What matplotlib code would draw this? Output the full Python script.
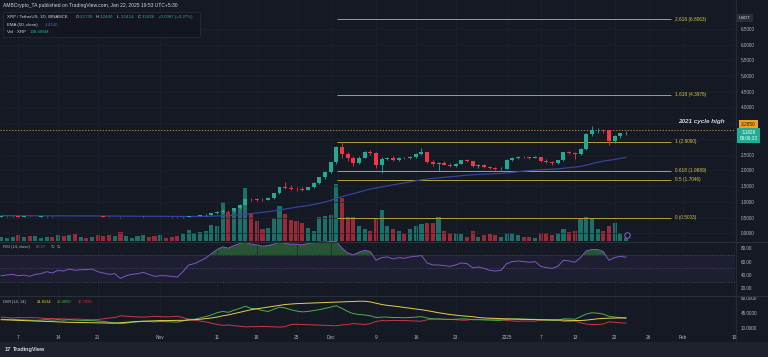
import matplotlib
matplotlib.use("Agg")
import matplotlib.pyplot as plt
from matplotlib.patches import Rectangle
from matplotlib.lines import Line2D
import numpy as np

plt.rcParams["font.family"] = ["Liberation Sans", "DejaVu Sans"]

# ── Data (XRP/USDT daily, 4 Oct 2024 -> 22 Jan 2025, one value per day) ──────

tick_days = [3, 10, 17, 28, 38, 45, 52, 58, 66, 73, 80, 89, 95, 101, 108, 114, 120, 129]
tick_labels = ["7", "14", "21", "Nov", "11", "18", "25", "Dec", "9", "16", "23",
               "2025", "7", "13", "20", "26", "Feb", "10"]

opens = [
    0.527, 0.535, 0.537, 0.543, 0.533, 0.534, 0.527, 0.530, 0.535, 0.545,
    0.537, 0.548, 0.542, 0.551, 0.545, 0.549, 0.547, 0.551, 0.539, 0.533,
    0.524, 0.530, 0.509, 0.516, 0.521, 0.523, 0.528, 0.521, 0.510, 0.513,
    0.512, 0.506, 0.503, 0.517, 0.546, 0.550, 0.575, 0.592, 0.640, 0.690,
    0.720, 0.700, 0.790, 0.900, 1.100, 1.080, 1.070, 1.060, 1.110, 1.270,
    1.460, 1.440, 1.420, 1.410, 1.390, 1.460, 1.600, 1.780, 1.940, 2.260,
    2.740, 2.520, 2.380, 2.250, 2.400, 2.580, 2.540, 2.170, 2.360, 2.390,
    2.330, 2.400, 2.380, 2.440, 2.520, 2.580, 2.270, 2.200, 2.230, 2.180,
    2.150, 2.200, 2.320, 2.300, 2.130, 2.160, 2.110, 2.070, 2.040, 2.060,
    2.330, 2.400, 2.430, 2.420, 2.400, 2.420, 2.290, 2.270, 2.230, 2.320,
    2.570, 2.550, 2.510, 2.680, 3.150, 3.280, 3.300, 3.270, 2.930, 3.090,
    3.174,
]
highs = [
    0.539, 0.541, 0.546, 0.548, 0.538, 0.537, 0.534, 0.538, 0.548, 0.549,
    0.553, 0.553, 0.556, 0.553, 0.552, 0.553, 0.553, 0.553, 0.543, 0.536,
    0.532, 0.534, 0.520, 0.525, 0.528, 0.536, 0.531, 0.524, 0.526, 0.518,
    0.514, 0.512, 0.521, 0.552, 0.560, 0.580, 0.600, 0.650, 0.705, 0.760,
    0.745, 0.800, 0.920, 1.130, 1.130, 1.130, 1.120, 1.140, 1.290, 1.480,
    1.630, 1.530, 1.480, 1.470, 1.480, 1.620, 1.800, 1.970, 2.280, 2.760,
    2.909, 2.600, 2.450, 2.450, 2.620, 2.640, 2.580, 2.420, 2.440, 2.470,
    2.430, 2.440, 2.460, 2.560, 2.700, 2.600, 2.330, 2.260, 2.310, 2.240,
    2.220, 2.340, 2.350, 2.310, 2.200, 2.200, 2.140, 2.110, 2.110, 2.350,
    2.420, 2.450, 2.460, 2.440, 2.460, 2.440, 2.360, 2.300, 2.340, 2.600,
    2.620, 2.600, 2.700, 3.180, 3.400, 3.340, 3.330, 3.290, 3.120, 3.200,
    3.244,
]
lows = [
    0.521, 0.530, 0.533, 0.531, 0.527, 0.524, 0.521, 0.527, 0.533, 0.532,
    0.535, 0.536, 0.540, 0.539, 0.541, 0.544, 0.542, 0.535, 0.530, 0.519,
    0.520, 0.497, 0.505, 0.511, 0.511, 0.518, 0.517, 0.507, 0.505, 0.505,
    0.500, 0.495, 0.500, 0.511, 0.538, 0.545, 0.565, 0.585, 0.625, 0.660,
    0.670, 0.690, 0.760, 0.890, 1.040, 1.040, 1.030, 1.050, 1.090, 1.260,
    1.400, 1.380, 1.350, 1.340, 1.370, 1.440, 1.560, 1.740, 1.920, 2.200,
    2.380, 2.300, 2.150, 2.200, 2.380, 2.480, 2.080, 1.910, 2.320, 2.300,
    2.310, 2.350, 2.360, 2.400, 2.480, 2.240, 2.150, 1.970, 2.160, 2.120,
    2.100, 2.190, 2.270, 2.110, 2.080, 2.090, 2.050, 2.010, 2.020, 2.050,
    2.310, 2.370, 2.400, 2.370, 2.380, 2.260, 2.220, 2.180, 2.210, 2.310,
    2.520, 2.370, 2.500, 2.660, 3.100, 3.200, 3.180, 2.800, 2.870, 3.030,
    3.141,
]
closes = [
    0.535, 0.537, 0.543, 0.533, 0.534, 0.527, 0.530, 0.535, 0.545, 0.537,
    0.548, 0.542, 0.551, 0.545, 0.549, 0.547, 0.551, 0.539, 0.533, 0.524,
    0.530, 0.509, 0.516, 0.521, 0.523, 0.528, 0.521, 0.510, 0.513, 0.512,
    0.506, 0.503, 0.517, 0.546, 0.550, 0.575, 0.592, 0.640, 0.690, 0.720,
    0.700, 0.790, 0.900, 1.100, 1.080, 1.070, 1.060, 1.110, 1.270, 1.460,
    1.440, 1.420, 1.410, 1.390, 1.460, 1.600, 1.780, 1.940, 2.260, 2.740,
    2.520, 2.380, 2.250, 2.400, 2.580, 2.540, 2.170, 2.360, 2.390, 2.330,
    2.400, 2.380, 2.440, 2.520, 2.580, 2.270, 2.200, 2.230, 2.180, 2.150,
    2.200, 2.320, 2.300, 2.130, 2.160, 2.110, 2.070, 2.040, 2.060, 2.330,
    2.400, 2.430, 2.420, 2.400, 2.420, 2.290, 2.270, 2.230, 2.320, 2.570,
    2.550, 2.510, 2.680, 3.150, 3.280, 3.300, 3.270, 2.930, 3.090, 3.174,
    3.1826,
]
volumes_m = [
    160, 120, 160, 240, 160, 200, 200, 120, 160, 160,
    240, 200, 240, 280, 160, 120, 160, 240, 200, 240,
    200, 360, 200, 120, 200, 240, 160, 200, 240, 120,
    160, 200, 280, 440, 320, 360, 400, 640, 600, 1560,
    1160, 1240, 1400, 2120, 1080, 800, 480, 520, 920, 1400,
    1080, 840, 800, 720, 520, 400, 960, 1000, 1040, 2280,
    1720, 960, 960, 600, 480, 400, 920, 1240, 600, 480,
    400, 280, 480, 600, 680, 720, 720, 960, 400, 320,
    320, 280, 160, 400, 160, 240, 280, 240, 160, 320,
    320, 240, 160, 160, 120, 320, 320, 240, 320, 480,
    360, 400, 880, 960, 920, 480, 400, 600, 720, 320,
    139,
]
ema50 = [
    0.562, 0.561, 0.560, 0.559, 0.558, 0.557, 0.556, 0.555, 0.555, 0.554,
    0.554, 0.553, 0.553, 0.553, 0.552, 0.552, 0.552, 0.551, 0.550, 0.549,
    0.548, 0.546, 0.545, 0.544, 0.543, 0.542, 0.541, 0.540, 0.539, 0.538,
    0.537, 0.535, 0.535, 0.535, 0.536, 0.537, 0.540, 0.544, 0.550, 0.557,
    0.564, 0.573, 0.587, 0.607, 0.627, 0.648, 0.668, 0.688, 0.712, 0.744,
    0.774, 0.802, 0.829, 0.855, 0.882, 0.914, 0.952, 0.994, 1.045, 1.112,
    1.168, 1.217, 1.262, 1.310, 1.362, 1.408, 1.438, 1.474, 1.509, 1.540,
    1.573, 1.603, 1.635, 1.668, 1.703, 1.725, 1.744, 1.763, 1.780, 1.795,
    1.811, 1.831, 1.849, 1.860, 1.872, 1.882, 1.890, 1.896, 1.903, 1.920,
    1.939, 1.958, 1.976, 1.993, 2.010, 2.021, 2.030, 2.038, 2.049, 2.069,
    2.088, 2.104, 2.127, 2.168, 2.213, 2.256, 2.296, 2.321, 2.351, 2.383,
    2.414,
]
rsi = [
    39, 40, 41, 39, 40, 38, 41, 42, 45, 43,
    47, 46, 49, 47, 48, 48, 49, 45, 43, 41,
    42, 35, 39, 41, 42, 44, 41, 38, 39, 39,
    38, 37, 45, 55, 57, 61, 65, 72, 78, 82,
    80, 84, 87, 89, 86, 85, 83, 84, 86, 89,
    87, 86, 86, 85, 87, 88, 89, 89, 90, 90,
    80, 73, 70, 74, 77, 75, 62, 66, 67, 64,
    66, 65, 67, 68, 69, 58, 55, 55, 54, 53,
    55, 58, 57, 51, 52, 50, 47, 46, 47, 57,
    60, 61, 60, 59, 60, 53, 51, 50, 53, 62,
    61, 59, 66, 76, 78, 78, 75, 62, 66, 68,
    66.57,
]
adx = [
    29, 28.5, 28, 27.5, 27, 26.5, 26, 25.5, 25, 24.5,
    24, 23.5, 23, 22.8, 22.5, 22.2, 22, 21.8, 21.5, 21.2,
    21, 22, 23, 24, 25, 25.5, 26, 26.5, 27, 27,
    27.2, 27.5, 27.5, 28, 29, 30, 31.5, 33, 35, 38,
    40, 43, 46, 49, 52, 54, 56, 58, 60, 62,
    64, 65, 66, 66.5, 67, 67.5, 68, 68.5, 69, 69.5,
    70, 70.5, 71, 71.5, 71.5, 70, 67, 64, 62, 60.5,
    59, 57, 55.5, 53.5, 52, 50, 47.5, 45, 43, 41,
    39.5, 38, 37, 36, 34, 33, 32.5, 32, 31.5, 31,
    30.5, 30, 29.8, 29.5, 29.2, 29, 28.8, 28.5, 28.2, 28,
    27.5, 27.2, 27, 28, 29.5, 31, 32, 32.5, 32.8, 33,
    33,
]
plus_di = [
    30, 29.5, 30, 29, 28.5, 28, 27.5, 28, 29, 28,
    29, 28, 29, 28, 27.5, 27, 27, 26, 25, 23,
    22, 20, 21, 23, 24, 25.5, 25, 24, 25, 24.5,
    24, 23.5, 26, 30, 30, 33, 36, 40, 45, 48,
    46, 51, 55, 60, 55, 54, 50, 48, 53, 58,
    56, 52, 49, 47, 48, 50, 52, 55, 58, 61,
    55, 48, 43, 41, 40, 38, 34, 35, 35, 34,
    34, 33.5, 34, 35, 36, 33, 31, 31, 30, 29.5,
    30, 31, 30.5, 29, 29, 28.5, 28, 27.5, 27.5, 30,
    31, 31, 30.5, 30, 30, 28.5, 28, 27.5, 28, 31,
    31, 30, 36, 42, 45, 44, 42, 37, 35, 34,
    33,
]
minus_di = [
    35, 34, 33, 34, 33.5, 34, 33.5, 33, 31.5, 32,
    31, 31, 30, 30.5, 30, 29.5, 29, 29.5, 31, 33,
    34, 38, 37, 36, 35.5, 35, 35.5, 37, 36, 35.5,
    36, 37, 34, 30, 28, 26, 24, 21, 18, 16,
    17, 15, 14, 12.5, 13, 13, 13.5, 13, 12.5, 12,
    13, 18, 18.5, 18, 17.5, 17, 16.5, 16, 15.5, 15,
    17, 18, 20, 19, 18, 20, 25, 27, 26.5, 27.5,
    27, 27, 26.5, 26, 25.5, 29, 30, 30, 30, 30,
    29, 28, 28, 30, 29.5, 29.5, 30, 30, 29.5, 27,
    26, 25.5, 26, 26, 25.5, 28, 28.5, 29, 28.5, 25,
    25, 26, 22, 19, 18, 18, 19, 24, 23, 22,
    21,
]

fib_ratios = [0, 0.5, 0.618, 1, 1.618, 2.618]
fib_prices = [0.5003, 1.7046, 1.9889, 2.9090, 4.3976, 6.8063]
cycle_high = 3.2850

price_ticks = [0, 0.5, 1.0, 1.5, 2.0, 2.5, 4.0, 4.5, 5.0, 5.5, 6.0, 6.5]
price_grid = [0, 0.5, 1.0, 1.5, 2.0, 2.5, 3.0, 3.5, 4.0, 4.5, 5.0, 5.5, 6.0, 6.5]
rsi_ticks = [20, 40, 60, 80]
dmi_ticks = [10, 45, 80]

# ── Style ──────────────────────────────────────────────────────────────────

W, H = 768, 357
BG = "#151924"
GRID = "#1d2230"
SEP = "#2a2e39"
TXT = "#b2b5be"
UP = "#22ab94"
DOWN = "#f23645"
EMA_C = "#34449e"
FIB_C = "#b3a23c"
FIB_TXT = "#d9c34a"
RSI_C = "#7e57c2"
ADX_C = "#e3d04a"
PDI_C = "#4caf50"
MDI_C = "#c73a42"
XLIM = (-0.21, 129.2)


def rect(left, top, right, bottom):
    # pixel box -> figure fraction [l, b, w, h]
    return [left / W, 1 - bottom / H, (right - left) / W, (bottom - top) / H]


def ftext(x, y, s, **kw):
    kw.setdefault("va", "center")
    kw.setdefault("fontsize", 3.2)
    kw.setdefault("color", TXT)
    return fig.text(x / W, 1 - y / H, s, **kw)


def clean(axis):
    axis.patch.set_visible(False)
    for sp in axis.spines.values():
        sp.set_visible(False)
    axis.set_xlim(*XLIM)
    axis.tick_params(axis="x", bottom=False, labelbottom=False)


days = np.arange(len(closes))
o = np.array(opens)
hi = np.array(highs)
lo = np.array(lows)
c = np.array(closes)
colors = np.where(c >= o, UP, DOWN)
rsi_arr = np.array(rsi)

fig = plt.figure(figsize=(W / 100, H / 100), dpi=100, facecolor=BG)

# ── Price panel (volume underneath) ─────────────────────────────────────────
ax_vol = fig.add_axes(rect(0, 0, 735, 241))
ax = fig.add_axes(rect(0, 0, 735, 241))
for a in (ax_vol, ax):
    clean(a)
ax.set_ylim(-0.245, 7.418)
ax_vol.set_ylim(0, 9640)
ax_vol.set_yticks([])

ax_vol.vlines(tick_days, -0.245, 7.418, colors=GRID, linewidth=0.5, transform=ax.transData)
ax_vol.hlines(price_grid, XLIM[0], XLIM[1], colors=GRID, linewidth=0.5, transform=ax.transData)
ax_vol.bar(days, volumes_m, width=0.72, color=colors, alpha=0.6, linewidth=0)

ax.vlines(days, lo, hi, colors=colors, linewidth=0.6, zorder=3)
ax.bar(days, np.maximum(np.abs(c - o), 0.004), bottom=np.minimum(o, c),
       width=0.7, color=colors, linewidth=0, zorder=4)
ax.plot(days, ema50, color=EMA_C, linewidth=0.9, zorder=2)

ax.axhline(cycle_high, color="#9a7b4f", linewidth=0.7, linestyle=(0, (1.5, 1.5)), zorder=1)
ax.hlines(fib_prices, 59.1, 118.0, colors=FIB_C, linewidth=0.7, zorder=1)
for r, p in zip(fib_ratios, fib_prices):
    ax.text(118.6, p, f"{r:g} ({p:.4f})", va="center", fontsize=3.4, color=FIB_TXT)
ax.text(119.2, 3.55, "2021 cycle high", va="center", fontsize=4.6, color="#d1d4dc",
        style="italic", weight="bold")
ax.plot([110.2], [-0.06], marker="o", markersize=4, mfc=BG, mec="#8e5cc8",
        mew=0.7, zorder=6)

ax.yaxis.tick_right()
ax.set_yticks(price_ticks)
ax.set_yticklabels([f"{v:.4f}" for v in price_ticks])
ax.tick_params(axis="y", length=0, pad=4.2, labelsize=3.3, labelcolor=TXT)

# ── RSI panel ──────────────────────────────────────────────────────────────
ax_rsi = fig.add_axes(rect(0, 241.5, 735, 295.5))
clean(ax_rsi)
ax_rsi.set_ylim(9.5, 90)
ax_rsi.vlines(tick_days, 9.5, 90, colors=GRID, linewidth=0.5)
ax_rsi.axhspan(30, 70, color=RSI_C, alpha=0.09, linewidth=0)
for lvl in (70, 50, 30):
    ax_rsi.axhline(lvl, color="#4a4d5a", linewidth=0.5, linestyle=(0, (2, 2)))
ax_rsi.fill_between(days, 70, rsi_arr, where=rsi_arr > 70, interpolate=True,
                    color="#3f9e45", alpha=0.45, linewidth=0)
ax_rsi.plot(days, rsi_arr, color=RSI_C, linewidth=0.7)
ax_rsi.yaxis.tick_right()
ax_rsi.set_yticks(rsi_ticks)
ax_rsi.set_yticklabels([f"{v:.2f}" for v in rsi_ticks])
ax_rsi.tick_params(axis="y", length=0, pad=4.2, labelsize=3.3, labelcolor=TXT)

# ── DMI panel ──────────────────────────────────────────────────────────────
ax_dmi = fig.add_axes(rect(0, 295.5, 735, 331))
clean(ax_dmi)
ax_dmi.set_ylim(3, 84.7)
ax_dmi.vlines(tick_days, 3, 84.7, colors=GRID, linewidth=0.5)
ax_dmi.plot(days, minus_di, color=MDI_C, linewidth=0.7)
ax_dmi.plot(days, plus_di, color=PDI_C, linewidth=0.7)
ax_dmi.plot(days, adx, color=ADX_C, linewidth=0.7)
ax_dmi.yaxis.tick_right()
ax_dmi.set_yticks(dmi_ticks)
ax_dmi.set_yticklabels([f"{v:.4f}" for v in dmi_ticks])
ax_dmi.tick_params(axis="y", length=0, pad=4.2, labelsize=3.3, labelcolor=TXT)
ax_dmi.set_xticks(tick_days)
ax_dmi.set_xticklabels(tick_labels)
ax_dmi.tick_params(axis="x", labelbottom=True, length=0, pad=2.6, labelsize=3.4,
                   labelcolor=TXT)

# ── Separators, bottom bar ─────────────────────────────────────────────────
for yy in (241.5, 295.5):
    fig.add_artist(Line2D([0, 1], [1 - yy / H] * 2, color=SEP, linewidth=0.8))
fig.add_artist(Line2D([735.5 / W] * 2, [15 / H, 1], color=SEP, linewidth=0.6))
fig.add_artist(Rectangle((0, 0), 1, 15 / H, transform=fig.transFigure,
                         facecolor="#1e222d", linewidth=0))
ftext(5, 349.5, "17", fontsize=4.2, weight="bold", color="#d1d4dc")
ftext(13, 349.5, "TradingView", fontsize=4.0, weight="bold", color="#d1d4dc")

# ── Header / legends ───────────────────────────────────────────────────────
ftext(3, 6, "AMBCrypto_TA published on TradingView.com, Jan 22, 2025 19:53 UTC+5:30",
      fontsize=3.6, color="#d1d4dc")
fig.add_artist(Rectangle((3 / W, 1 - 37 / H), 197 / W, 25 / H, transform=fig.transFigure,
                         facecolor="#131620", edgecolor=SEP, linewidth=0.5))
ftext(7, 17, "XRP / TetherUS, 1D, BINANCE", color="#d1d4dc")
for x, lab, val in [(76, "O", "3.1739"), (96, "H", "3.2440"), (117, "L", "3.1414"),
                    (138, "C", "3.1826")]:
    ftext(x, 17, lab, color="#d1d4dc")
    ftext(x + 3.8, 17, val, color=UP)
ftext(158, 17, "+0.0087 (+0.27%)", color=UP)
ftext(7, 25, "EMA (50, close)", color="#d1d4dc")
ftext(45, 25, "2.4140", color="#4a63e0")
ftext(7, 32, "Vol · XRP", color="#d1d4dc")
ftext(30, 32, "138.686M", color=UP)

ftext(3, 247, "RSI (14, close)", fontsize=3.0)
ftext(36, 247, "66.57", fontsize=3.0, color=RSI_C)
ftext(51, 247, "∅  ∅", fontsize=3.0)

ftext(3, 302, "DMI (14, 14)", fontsize=3.0)
ftext(37, 302, "21.8134", fontsize=3.0, color=ADX_C)
ftext(57, 302, "25.0050", fontsize=3.0, color=PDI_C)
ftext(78, 302, "15.7935", fontsize=3.0, color=MDI_C)

# ── Right-scale labels ─────────────────────────────────────────────────────
ftext(745, 18, "USDT", ha="center", fontsize=3.2, color="#d1d4dc",
      bbox=dict(boxstyle="square,pad=0.5", fc=SEP, lw=0))
ftext(748.5, 125, f"{cycle_high:.4f}", ha="center", fontsize=3.4, color="#131722",
      bbox=dict(boxstyle="square,pad=0.55", fc="#f0a020", lw=0), zorder=6)
ftext(748.5, 135.5, f"{closes[-1]:.4f}\n09:06:33", ha="center", fontsize=3.3,
      color="white", linespacing=1.15,
      bbox=dict(boxstyle="square,pad=0.45", fc=UP, lw=0), zorder=6)

fig.savefig("out.png", dpi=100, facecolor=BG)
